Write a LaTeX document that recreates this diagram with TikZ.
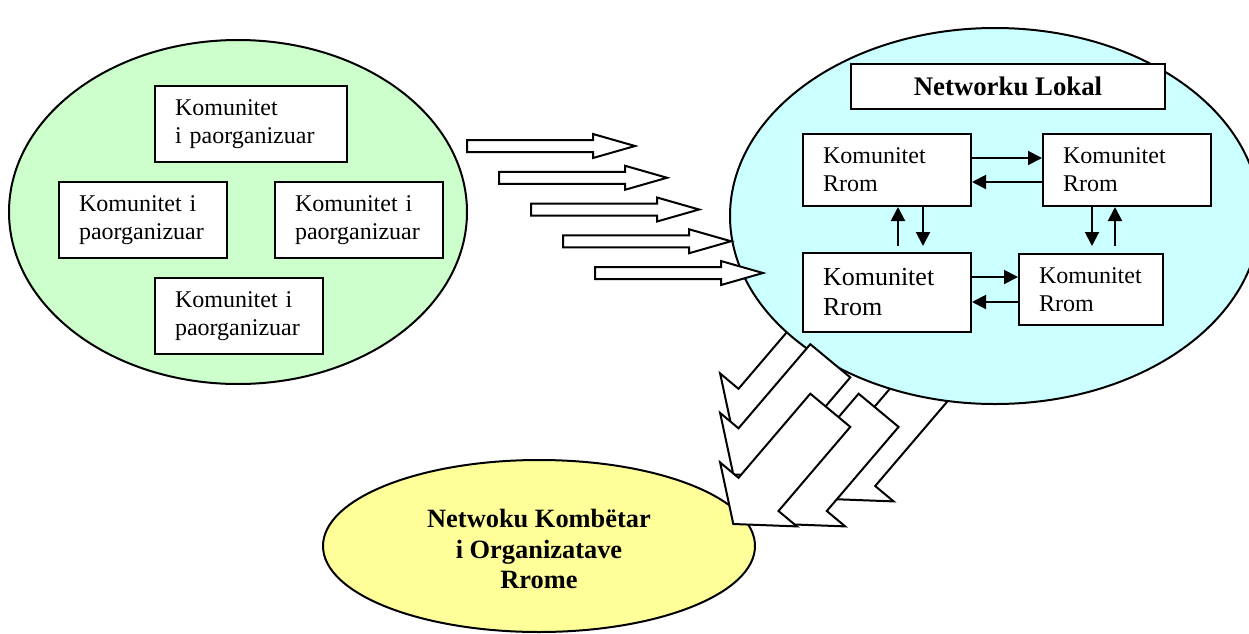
\documentclass[tikz,border=0pt]{standalone}
\usepackage{fontspec}
\setmainfont{Liberation Serif}
\usetikzlibrary{arrows.meta,shapes.geometric,calc}
\definecolor{lgreen}{HTML}{CCFFCC}
\definecolor{lcyan}{HTML}{CCFFFF}
\definecolor{lyellow}{HTML}{FFFF99}
\newcommand\diagarrow[1]{%
  \begin{scope}[shift={#1}]
    \draw[blk] (0,0) -- (-13.2,-61.6) -- (5.2,-46.2) -- (77,-130.3) -- (117,-97.1) -- (45.2,-13) -- (63.6,2.4) -- cycle;
  \end{scope}}
\begin{document}
\begin{tikzpicture}[x=0.5pt,y=-0.5pt,
  every node/.style={inner sep=0pt},
  oval/.style={ellipse, draw, line width=1pt},
  kbox/.style={draw, fill=white, line width=1pt, align=left, inner xsep=10pt, inner ysep=0pt, font=\fontsize{12pt}{14pt}\selectfont},
  blk/.style={draw, fill=white, line width=1pt, line join=miter},
  arr/.style={line width=1pt, -{Triangle[length=7pt,width=7pt]}}
]
\fill[white] (0,0) rectangle (1249,633);
\useasboundingbox (0,0) rectangle (1249,633);
\clip (0,0) rectangle (1249,633);

% left green ellipse
\node[oval, fill=lgreen, minimum width=229pt, minimum height=172pt] (green) at (238,212) {};
\node[kbox, text width=76pt, minimum height=38pt] (g1) at (251,124) {Komunitet\\i paorganizuar};
\node[kbox, text width=64pt, minimum height=38pt] (g2) at (143,220) {Komunitet i\\paorganizuar};
\node[kbox, text width=64pt, minimum height=38pt] (g3) at (359,220) {Komunitet i\\paorganizuar};
\node[kbox, text width=64pt, minimum height=38pt] (g4) at (239,316) {Komunitet i\\paorganizuar};

% yellow ellipse
\node[oval, fill=lyellow, minimum width=216pt, minimum height=86pt] (yellow) at (539,546) {};
\node[font=\bfseries\fontsize{13.2pt}{15.2pt}\selectfont, align=center] (ytext) at (539,549) {Netwoku Kombëtar\\i Organizatave\\Rrome};

% diagonal block arrows behind the cyan ellipse
\diagarrow{(733.3,435)}
\diagarrow{(830,499)}

% cyan ellipse
\node[oval, fill=lcyan, minimum width=265pt, minimum height=188pt] (cyan) at (995,216) {};
\node[draw, fill=white, line width=1pt, minimum width=157pt, minimum height=22.5pt, font=\bfseries\fontsize{13.4pt}{15pt}\selectfont] (lokal) at (1008,86.5) {Networku Lokal};

\node[kbox, text width=64pt, minimum height=36pt] (tl) at (887,170) {Komunitet\\Rrom};
\node[kbox, text width=64pt, minimum height=36pt] (tr) at (1127,170) {Komunitet\\Rrom};
\node[kbox, text width=64pt, minimum height=39.5pt, font=\fontsize{13pt}{15pt}\selectfont] (bl) at (887,292.5) {Komunitet\\Rrom};
\node[kbox, text width=52pt, minimum height=35.5pt] (br) at (1091,289.5) {Komunitet\\Rrom};

\draw[arr] ($(tl.east)+(0,-12)$) -- ($(tr.west)+(0,-12)$);
\draw[arr] ($(tr.west)+(0,12)$) -- ($(tl.east)+(0,12)$);
\draw[arr] ($(bl.north)+(11,-6)$) -- ($(tl.south)+(11,0)$);
\draw[arr] ($(tl.south)+(36,0)$) -- ($(bl.north)+(36,-6)$);
\draw[arr] ($(tr.south)+(-35,0)$) -- ($(br.north)+(1,-7)$);
\draw[arr] ($(br.north)+(24,-7)$) -- ($(tr.south)+(-12,0)$);
\draw[arr] ($(bl.east)+(0,-15.5)$) -- ($(br.west)+(0,-12.5)$);
\draw[arr] ($(br.west)+(0,12.5)$) -- ($(bl.east)+(0,9.5)$);

% diagonal block arrows in front
\diagarrow{(733.3,474.5)}
\diagarrow{(781.6,524)}
\diagarrow{(733.3,524)}

% horizontal block arrows
\foreach \i in {0,...,4}{
  \begin{scope}[shift={({467+32*\i},{146+31.75*\i})}]
    \draw[blk] (0,-6) -- (126,-6) -- (126,-12) -- (168,0) -- (126,12) -- (126,6) -- (0,6) -- cycle;
  \end{scope}
}
\end{tikzpicture}
\end{document}
